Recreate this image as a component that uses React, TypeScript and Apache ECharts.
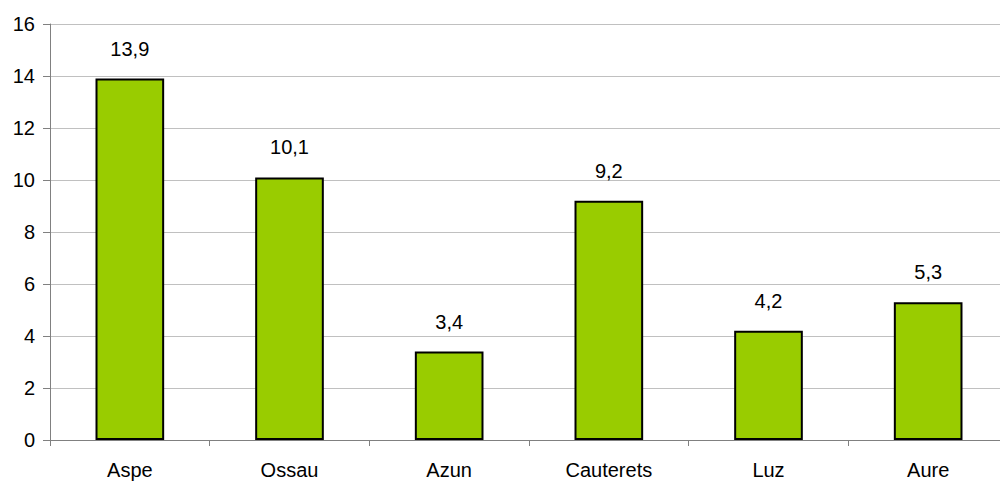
import React, { useEffect, useRef } from "react";
import * as echarts from "echarts";

const categories = ["Aspe", "Ossau", "Azun", "Cauterets", "Luz", "Aure"];
const values = [13.9, 10.1, 3.4, 9.2, 4.2, 5.3];
const yTicks = { min: 0, max: 16, interval: 2 };

export default function App() {
  const ref = useRef<HTMLDivElement>(null);
  useEffect(() => {
    const chart = echarts.init(ref.current!, null, { renderer: "svg" });
    const font = "'Liberation Sans', Arial, sans-serif";
    chart.setOption({
      animation: false,
      grid: {
        left: 50,
        width: 958,
        top: 24,
        bottom: 41,
        containLabel: false,
        outerBoundsMode: "none",
      },
      xAxis: {
        type: "category",
        data: categories,
        axisLine: { lineStyle: { color: "#808080", width: 1 } },
        axisTick: { show: true, alignWithLabel: false, length: 6, lineStyle: { color: "#808080" } },
        axisLabel: { color: "#000", fontSize: 20, fontFamily: font, margin: 20 },
      },
      yAxis: {
        type: "value",
        min: yTicks.min,
        max: yTicks.max,
        interval: yTicks.interval,
        axisLine: { show: true, lineStyle: { color: "#808080", width: 1 } },
        axisTick: { show: true, length: 7, lineStyle: { color: "#808080" } },
        axisLabel: { color: "#000", fontSize: 20, fontFamily: font, margin: 15 },
        splitLine: { show: true, lineStyle: { color: "#c0c0c0", width: 1 } },
      },
      series: [
        {
          type: "bar",
          data: values,
          barWidth: "43%",
          itemStyle: { color: "#99cc00", borderColor: "#000", borderWidth: 2 },
          label: {
            show: true,
            position: "top",
            distance: 20,
            color: "#000",
            fontSize: 20,
            fontFamily: font,
            formatter: (p: any) => String(p.value).replace(".", ","),
          },
        },
      ],
    });
    return () => chart.dispose();
  }, []);
  return (
    <div
      ref={ref}
      style={{ position: "fixed", left: 0, top: 0, width: 1000, height: 481, background: "#fff" }}
    />
  );
}
